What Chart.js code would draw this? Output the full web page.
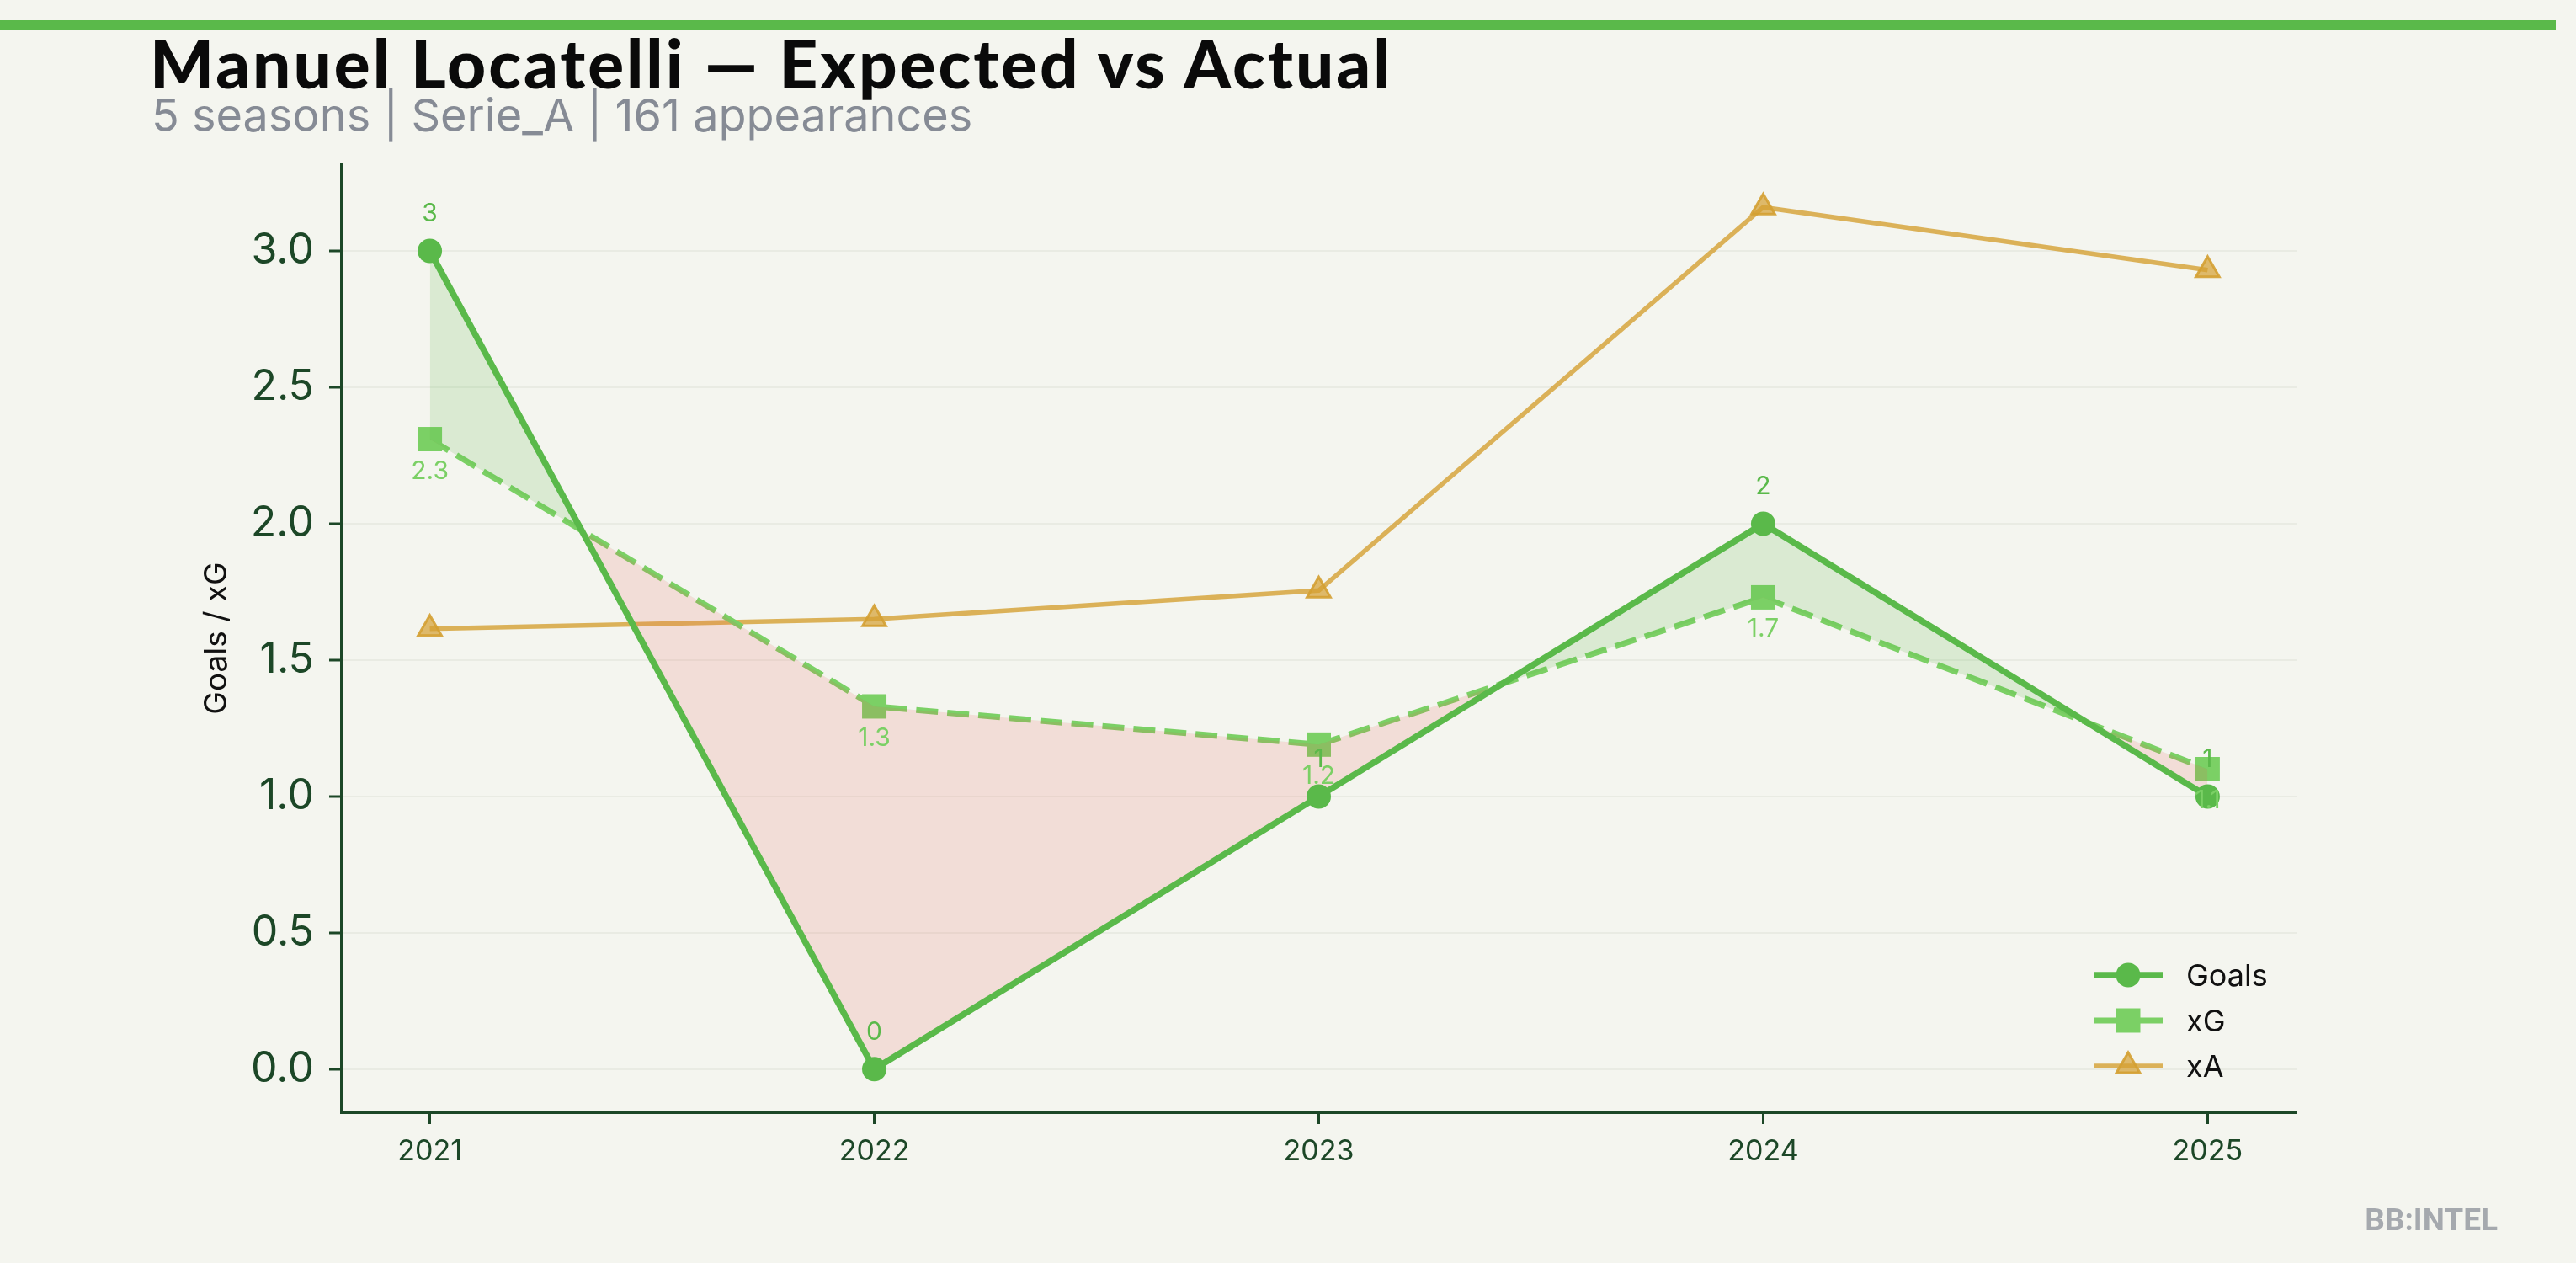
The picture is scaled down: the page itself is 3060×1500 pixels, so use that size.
<!DOCTYPE html>
<html>
<head>
<meta charset="utf-8">
<script src="https://cdn.jsdelivr.net/npm/chart.js@4.4.1/dist/chart.umd.min.js"></script>
<style>
  html, body { margin: 0; padding: 0; background: #f4f5ef; }
  #wrap { position: relative; width: 3060px; height: 1500px; overflow: hidden; background: #f4f5ef; }
  #bar { position: absolute; left: 0; top: 24px; width: 3036px; height: 12px; background: #5ab94a; }
  #title { position: absolute; left: 178px; top: 34px; font: 900 80px Lato; letter-spacing: 3px; line-height: 1; color: #0a0a0a; white-space: nowrap; }
  #sub { position: absolute; left: 180px; top: 110px; font: 400 54px Inter; line-height: 1; color: #868b95; white-space: nowrap; }
  #mark { position: absolute; right: 93px; top: 1430px; font: 700 37px Roboto; line-height: 1; color: #a5a9ae; white-space: nowrap; }
  canvas { position: absolute; left: 0; top: 0; }
</style>
</head>
<body>
<div id="wrap">
  <canvas id="chart" width="3060" height="1500"></canvas>
  <div id="bar"></div>
  <div id="title">Manuel Locatelli — Expected vs Actual</div>
  <div id="sub">5 seasons | Serie_A | 161 appearances</div>
  <div id="mark">BB:INTEL</div>
</div>
<script>
// data
const seasons = [2021, 2022, 2023, 2024, 2025];
const goals = [3, 0, 1, 2, 1];
const xg = [2.31, 1.33, 1.19, 1.73, 1.10];
const xa = [1.615, 1.65, 1.755, 3.16, 2.93];
const yTicks = [0, 0.5, 1, 1.5, 2, 2.5, 3];

const GREEN = "#5ab94a";
const LIGHT = "#7bd065";
const GOLD_LINE = "rgba(212,160,50,0.8)";
const AX = "#1c4727";

const pts = arr => arr.map((v, i) => ({ x: seasons[i], y: v }));
const all = goals.concat(xg, xa);
const yLo = Math.min(...all), yHi = Math.max(...all);
const yPad = (yHi - yLo) * 0.05;
const xPad = (seasons[seasons.length - 1] - seasons[0]) * 0.05;

// value labels above goals / below xG
const valueLabels = {
  id: "valueLabels",
  afterDatasetsDraw(chart) {
    const c = chart.ctx;
    c.save();
    c.font = "30px Inter";
    c.textAlign = "center";
    c.textBaseline = "alphabetic";
    chart.getDatasetMeta(0).data.forEach((p, i) => {
      c.fillStyle = GREEN;
      c.fillText(String(goals[i]), p.x, p.y - 35);
    });
    chart.getDatasetMeta(1).data.forEach((p, i) => {
      c.fillStyle = LIGHT;
      c.fillText(xg[i].toFixed(1), p.x, p.y + 47);
    });
    c.restore();
  }
};

// legend with line + marker, bottom right of plot
const sideLegend = {
  id: "sideLegend",
  afterDraw(chart) {
    const c = chart.ctx, a = chart.chartArea;
    const mx = a.right - 200, tx = a.right - 131;
    chart.data.datasets.forEach((ds, i) => {
      const y = a.bottom - 163 + i * 54;
      c.save();
      c.strokeStyle = ds.borderColor;
      c.lineWidth = ds.borderWidth;
      c.beginPath();
      c.moveTo(mx - 41, y);
      c.lineTo(mx + 41, y);
      c.stroke();
      c.fillStyle = ds.pointBackgroundColor;
      c.strokeStyle = ds.pointBorderColor || ds.borderColor;
      c.lineWidth = ds.pointBorderWidth;
      Chart.helpers.drawPoint(c, { pointStyle: ds.pointStyle, radius: ds.pointRadius, borderWidth: ds.pointBorderWidth, rotation: 0 }, mx, y);
      c.font = "36px Inter";
      c.fillStyle = "#111111";
      c.textAlign = "left";
      c.textBaseline = "alphabetic";
      c.fillText(ds.label, tx, y + 13);
      c.restore();
    });
  }
};

const ctx = document.getElementById("chart").getContext("2d");
new Chart(ctx, {
  type: "line",
  data: {
    datasets: [
      {
        label: "Goals",
        data: pts(goals),
        borderColor: GREEN,
        borderWidth: 7.5,
        pointStyle: "circle",
        pointRadius: 14.5,
        pointBackgroundColor: GREEN,
        pointBorderColor: GREEN,
        pointBorderWidth: 0,
        tension: 0,
        fill: { target: 1, above: "rgba(90,185,74,0.17)", below: "rgba(235,90,80,0.15)" }
      },
      {
        label: "xG",
        data: pts(xg),
        borderColor: LIGHT,
        borderWidth: 7,
        borderDash: [26, 11],
        pointStyle: "rect",
        pointRadius: 20.5,
        pointBackgroundColor: LIGHT,
        pointBorderColor: LIGHT,
        pointBorderWidth: 0,
        tension: 0,
        fill: false
      },
      {
        label: "xA",
        data: pts(xa),
        borderColor: GOLD_LINE,
        borderWidth: 5.5,
        pointStyle: "triangle",
        pointRadius: 16,
        pointBackgroundColor: "rgba(212,160,50,0.7)",
        pointBorderColor: "rgba(212,160,50,0.9)",
        pointBorderWidth: 3,
        tension: 0,
        fill: false
      }
    ]
  },
  options: {
    responsive: false,
    animation: false,
    devicePixelRatio: 1,
    events: [],
    layout: { padding: { left: 0, top: 195, right: 332, bottom: 79 } },
    plugins: {
      legend: { display: false },
      title: { display: false },
      tooltip: { enabled: false }
    },
    scales: {
      x: {
        type: "linear",
        min: seasons[0] - xPad,
        max: seasons[seasons.length - 1] + xPad,
        afterBuildTicks: s => { s.ticks = seasons.map(v => ({ value: v })); },
        afterFit: s => { s.height = 100; },
        ticks: {
          callback: v => String(v),
          color: AX,
          font: { family: "Inter", size: 34 },
          padding: 12,
          maxRotation: 0,
          autoSkip: false
        },
        grid: { drawOnChartArea: false, drawTicks: true, tickLength: 14, tickWidth: 3, tickColor: AX },
        border: { display: true, color: AX, width: 3 }
      },
      y: {
        min: yLo - yPad,
        max: yHi + yPad,
        afterBuildTicks: s => { s.ticks = yTicks.map(v => ({ value: v })); },
        afterFit: s => { s.width = 405; },
        ticks: {
          callback: v => v.toFixed(1),
          color: AX,
          font: { family: "Inter", size: 50 },
          padding: 18
        },
        grid: { color: "#e9ebe3", lineWidth: 2, drawTicks: true, tickLength: 14, tickWidth: 3, tickColor: AX },
        border: { display: true, color: AX, width: 3 },
        title: {
          display: true,
          text: "Goals / xG",
          color: "#111111",
          font: { family: "Inter", size: 37 },
          padding: { top: 236, bottom: 0 }
        }
      }
    }
  },
  plugins: [valueLabels, sideLegend]
});
</script>
</body>
</html>
